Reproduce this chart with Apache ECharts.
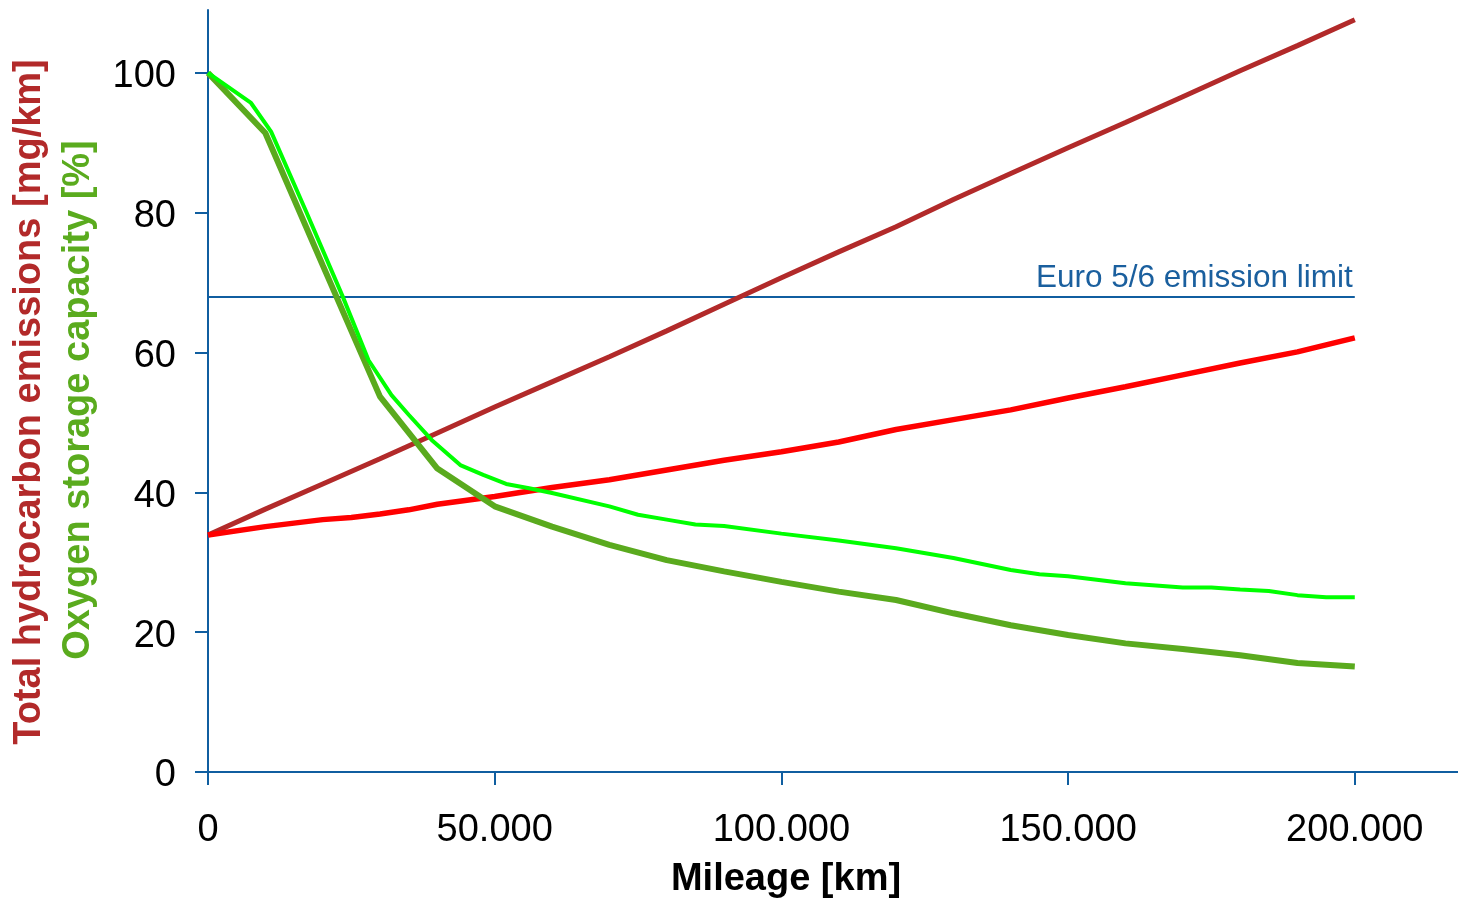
<!DOCTYPE html>
<html>
<head>
<meta charset="utf-8">
<title>Hydrocarbon emissions and oxygen storage capacity vs. mileage</title>
<script src="https://cdn.jsdelivr.net/npm/echarts@6/dist/echarts.min.js"></script>
<style>
  html, body { margin: 0; padding: 0; background: #ffffff; }
  #chart { width: 1458px; height: 900px; }
</style>
</head>
<body>
<div id="chart"></div>
<script>
// Mileage samples [km] and values for each curve
const hcSteepKm  = [0, 10000, 20000, 30000, 40000, 50000, 60000, 70000, 80000, 90000, 100000,
                    110000, 120000, 130000, 140000, 150000, 160000, 170000, 180000, 190000, 200000];
const hcSteepVal = [33.9, 37.6, 41.2, 44.8, 48.5, 52.2, 55.8, 59.4, 63.1, 66.9, 70.7,
                    74.4, 78.0, 81.9, 85.6, 89.3, 92.9, 96.6, 100.3, 103.9, 107.6];

const hcFlatKm  = [0, 10000, 20000, 25000, 30000, 35000, 40000, 50000, 60000, 70000, 80000, 90000,
                   100000, 110000, 120000, 130000, 140000, 150000, 160000, 170000, 180000, 190000, 200000];
const hcFlatVal = [33.9, 35.1, 36.1, 36.4, 36.9, 37.5, 38.3, 39.4, 40.7, 41.8, 43.2, 44.6,
                   45.8, 47.2, 49.0, 50.4, 51.8, 53.5, 55.1, 56.8, 58.5, 60.1, 62.1];

const oscLowKm  = [0, 10000, 20000, 30000, 40000, 50000, 60000, 70000, 80000, 90000, 100000,
                   110000, 120000, 130000, 140000, 150000, 160000, 170000, 180000, 190000, 200000];
const oscLowVal = [100, 91.4, 72.5, 53.7, 43.4, 38.0, 35.1, 32.5, 30.3, 28.7, 27.2,
                   25.8, 24.6, 22.7, 21.0, 19.6, 18.4, 17.6, 16.7, 15.6, 15.1];

const oscHighKm  = [0, 7500, 11000, 17000, 23500, 28000, 32000, 35000, 39000, 44000, 48000, 52000, 56000,
                    60000, 70000, 75000, 80000, 85000, 90000, 100000, 110000, 120000, 130000, 140000,
                    145000, 150000, 160000, 170000, 175000, 180000, 185000, 190000, 195000, 200000];
const oscHighVal = [100, 95.7, 91.6, 80.4, 68.0, 58.9, 53.9, 51.1, 47.5, 43.9, 42.5, 41.2, 40.6,
                    39.9, 38.0, 36.8, 36.1, 35.4, 35.2, 34.1, 33.1, 32.0, 30.6, 28.9,
                    28.3, 28.0, 27.0, 26.4, 26.4, 26.1, 25.9, 25.3, 25.0, 25.0];

// Emission limit and the mileage span it is drawn over
const euroLimit = 68;
const limitSpan = [0, 200000];

// Tick positions
const xTicks = [0, 50000, 100000, 150000, 200000];
const yTicks = [0, 20, 40, 60, 80, 100];

const FONT = '"Liberation Sans", Arial, Helvetica, sans-serif';
const AXIS_BLUE = '#105ea0';
const BROWN = '#b22a2a';
const GREEN_TEXT = '#5aab1e';

function pairs(xs, ys) { return xs.map((x, i) => [x, ys[i]]); }

function kmLabel(v) {
  if (v === 0) return '0';
  return (v / 1000) + '.000';
}

const chart = echarts.init(document.getElementById('chart'), null, { renderer: 'canvas' });

chart.setOption({
  animation: false,
  backgroundColor: '#ffffff',
  grid: { left: 208, right: 0, top: 10, bottom: 128, containLabel: false },
  xAxis: {
    type: 'value',
    min: 0,
    max: 218000,
    splitLine: { show: false },
    axisLine: { show: true, onZero: false, lineStyle: { color: AXIS_BLUE, width: 2 } },
    axisTick: { show: true, customValues: xTicks, length: 13, lineStyle: { color: AXIS_BLUE, width: 2 } },
    axisLabel: {
      customValues: xTicks,
      formatter: kmLabel,
      fontSize: 38, fontFamily: FONT, color: '#000000', margin: 40
    }
  },
  yAxis: {
    type: 'value',
    min: 0,
    max: 109,
    splitLine: { show: false },
    axisLine: { show: true, onZero: false, lineStyle: { color: AXIS_BLUE, width: 2 } },
    axisTick: { show: true, customValues: yTicks, length: 13, lineStyle: { color: AXIS_BLUE, width: 2 } },
    axisLabel: {
      customValues: yTicks,
      formatter: '{v|{value}}',
      margin: 32,
      rich: {
        v: { fontSize: 38, fontFamily: FONT, color: '#000000', padding: [8, 0, 0, 0] }
      }
    }
  },
  graphic: [
    {
      type: 'text', x: 786, y: 880, silent: true,
      style: { text: 'Mileage [km]', fill: '#000000', font: 'bold 38px ' + FONT,
               textAlign: 'center', textVerticalAlign: 'middle' }
    },
    {
      type: 'text', x: 30, y: 402, rotation: Math.PI / 2, silent: true,
      style: { text: 'Total hydrocarbon emissions [mg/km]', fill: BROWN, font: 'bold 38px ' + FONT,
               textAlign: 'center', textVerticalAlign: 'middle' }
    },
    {
      type: 'text', x: 79, y: 400, rotation: Math.PI / 2, silent: true,
      style: { text: 'Oxygen storage capacity [%]', fill: GREEN_TEXT, font: 'bold 38px ' + FONT,
               textAlign: 'center', textVerticalAlign: 'middle' }
    }
  ],
  series: [
    {
      name: 'Euro 5/6 emission limit',
      type: 'line',
      data: [],
      markLine: {
        silent: true,
        z: 1,
        symbol: ['none', 'none'],
        lineStyle: { color: AXIS_BLUE, width: 2, type: 'solid' },
        label: {
          show: true,
          position: 'insideEndTop',
          distance: 2,
          formatter: 'Euro 5/6 emission limit',
          color: '#1a5f9e',
          fontSize: 31.5,
          fontFamily: FONT
        },
        data: [[{ coord: [limitSpan[0], euroLimit] }, { coord: [limitSpan[1], euroLimit] }]]
      }
    },
    {
      name: 'Total hydrocarbon emissions (steep)',
      type: 'line', showSymbol: false, z: 2,
      data: pairs(hcSteepKm, hcSteepVal),
      lineStyle: { color: BROWN, width: 5 }
    },
    {
      name: 'Total hydrocarbon emissions (flat)',
      type: 'line', showSymbol: false, z: 3,
      data: pairs(hcFlatKm, hcFlatVal),
      lineStyle: { color: '#ff0000', width: 5.5 }
    },
    {
      name: 'Oxygen storage capacity (low)',
      type: 'line', showSymbol: false, z: 4,
      data: pairs(oscLowKm, oscLowVal),
      lineStyle: { color: '#5aaa1e', width: 6 }
    },
    {
      name: 'Oxygen storage capacity (high)',
      type: 'line', showSymbol: false, z: 5,
      data: pairs(oscHighKm, oscHighVal),
      lineStyle: { color: '#00ff00', width: 4 }
    }
  ]
});
</script>
</body>
</html>
